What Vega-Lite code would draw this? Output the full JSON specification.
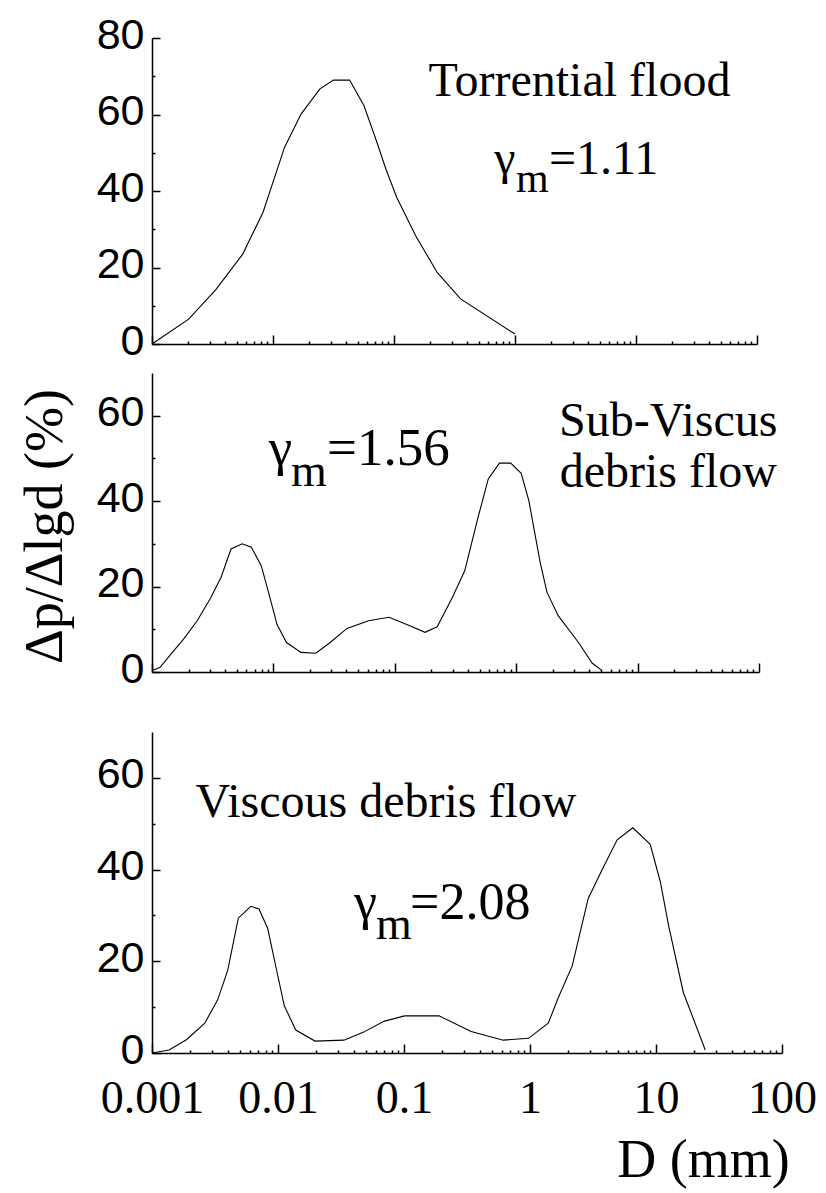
{
  "$schema": "https://vega.github.io/schema/vega-lite/v6.json",
  "padding": {"left": 18, "top": 14, "right": 5, "bottom": 5},
  "background": "white",
  "config": {
    "view": {"stroke": null},
    "axis": {"grid": false, "labelColor": "black", "titleColor": "black", "titleFontWeight": "normal", "labelFontWeight": "normal"}
  },
  "datasets": {
    "curves": [
      {"panel": "top", "D": 0.001, "value": 0},
      {"panel": "top", "D": 0.00201, "value": 6.5},
      {"panel": "top", "D": 0.00337, "value": 14.2},
      {"panel": "top", "D": 0.00562, "value": 23.5},
      {"panel": "top", "D": 0.00826, "value": 34.4},
      {"panel": "top", "D": 0.01245, "value": 51.4},
      {"panel": "top", "D": 0.01706, "value": 60.1},
      {"panel": "top", "D": 0.02443, "value": 66.7},
      {"panel": "top", "D": 0.03162, "value": 69.0},
      {"panel": "top", "D": 0.04295, "value": 69.0},
      {"panel": "top", "D": 0.05649, "value": 62.3},
      {"panel": "top", "D": 0.0700, "value": 54.0},
      {"panel": "top", "D": 0.0867, "value": 45.3},
      {"panel": "top", "D": 0.1054, "value": 38.3},
      {"panel": "top", "D": 0.151, "value": 28.3},
      {"panel": "top", "D": 0.2275, "value": 18.7},
      {"panel": "top", "D": 0.3548, "value": 11.8},
      {"panel": "top", "D": 1.0, "value": 2.6},
      {"panel": "mid", "D": 0.001, "value": 0.3},
      {"panel": "mid", "D": 0.001167, "value": 1.1},
      {"panel": "mid", "D": 0.001432, "value": 4.2},
      {"panel": "mid", "D": 0.00182, "value": 7.7},
      {"panel": "mid", "D": 0.002355, "value": 12.0},
      {"panel": "mid", "D": 0.003041, "value": 17.3},
      {"panel": "mid", "D": 0.003707, "value": 22.2},
      {"panel": "mid", "D": 0.004477, "value": 28.8},
      {"panel": "mid", "D": 0.005534, "value": 30.0},
      {"panel": "mid", "D": 0.006577, "value": 29.2},
      {"panel": "mid", "D": 0.007943, "value": 24.9},
      {"panel": "mid", "D": 0.009268, "value": 17.9},
      {"panel": "mid", "D": 0.01072, "value": 11.1},
      {"panel": "mid", "D": 0.01282, "value": 6.9},
      {"panel": "mid", "D": 0.01687, "value": 4.6},
      {"panel": "mid", "D": 0.02234, "value": 4.4},
      {"panel": "mid", "D": 0.02938, "value": 6.9},
      {"panel": "mid", "D": 0.04036, "value": 10.2},
      {"panel": "mid", "D": 0.06081, "value": 12.0},
      {"panel": "mid", "D": 0.08954, "value": 12.8},
      {"panel": "mid", "D": 0.1315, "value": 10.9},
      {"panel": "mid", "D": 0.1774, "value": 9.3},
      {"panel": "mid", "D": 0.2234, "value": 10.6},
      {"panel": "mid", "D": 0.2965, "value": 17.3},
      {"panel": "mid", "D": 0.3767, "value": 23.7},
      {"panel": "mid", "D": 0.4831, "value": 36.0},
      {"panel": "mid", "D": 0.5888, "value": 45.2},
      {"panel": "mid", "D": 0.7278, "value": 48.9},
      {"panel": "mid", "D": 0.9016, "value": 48.9},
      {"panel": "mid", "D": 1.099, "value": 46.5},
      {"panel": "mid", "D": 1.271, "value": 40.1},
      {"panel": "mid", "D": 1.574, "value": 25.7},
      {"panel": "mid", "D": 1.791, "value": 18.7},
      {"panel": "mid", "D": 2.218, "value": 13.2},
      {"panel": "mid", "D": 3.258, "value": 6.9},
      {"panel": "mid", "D": 4.217, "value": 2.1},
      {"panel": "mid", "D": 5.0, "value": 0.5},
      {"panel": "bot", "D": 0.001, "value": 0},
      {"panel": "bot", "D": 0.001365, "value": 0.65},
      {"panel": "bot", "D": 0.001875, "value": 2.9},
      {"panel": "bot", "D": 0.002624, "value": 6.5},
      {"panel": "bot", "D": 0.003319, "value": 11.6},
      {"panel": "bot", "D": 0.00399, "value": 18.0},
      {"panel": "bot", "D": 0.004842, "value": 29.4},
      {"panel": "bot", "D": 0.006081, "value": 32.0},
      {"panel": "bot", "D": 0.007063, "value": 31.4},
      {"panel": "bot", "D": 0.008279, "value": 27.2},
      {"panel": "bot", "D": 0.009638, "value": 18.7},
      {"panel": "bot", "D": 0.01122, "value": 10.3},
      {"panel": "bot", "D": 0.01384, "value": 5.0},
      {"panel": "bot", "D": 0.01968, "value": 2.6},
      {"panel": "bot", "D": 0.03334, "value": 2.8},
      {"panel": "bot", "D": 0.04742, "value": 4.5},
      {"panel": "bot", "D": 0.06918, "value": 6.9},
      {"panel": "bot", "D": 0.1009, "value": 8.1},
      {"panel": "bot", "D": 0.1897, "value": 8.1},
      {"panel": "bot", "D": 0.3412, "value": 4.7},
      {"panel": "bot", "D": 0.6138, "value": 2.8},
      {"panel": "bot", "D": 0.9727, "value": 3.2},
      {"panel": "bot", "D": 1.396, "value": 6.5},
      {"panel": "bot", "D": 1.679, "value": 12.1},
      {"panel": "bot", "D": 2.163, "value": 19.0},
      {"panel": "bot", "D": 2.897, "value": 33.7},
      {"panel": "bot", "D": 3.819, "value": 40.5},
      {"panel": "bot", "D": 4.920, "value": 46.5},
      {"panel": "bot", "D": 6.546, "value": 49.1},
      {"panel": "bot", "D": 8.995, "value": 45.5},
      {"panel": "bot", "D": 10.81, "value": 37.4},
      {"panel": "bot", "D": 12.59, "value": 27.8},
      {"panel": "bot", "D": 16.48, "value": 13.2},
      {"panel": "bot", "D": 24.60, "value": 0.65}
    ],
    "labels": [
      {"panel": "top", "kind": "name", "D": 3.41, "value": 64.8, "text": "Torrential flood"},
      {"panel": "top", "kind": "gamma", "D": 0.673, "value": 44.4, "text": "γ"},
      {"panel": "top", "kind": "sub", "D": 1.018, "value": 39.7, "text": "m"},
      {"panel": "top", "kind": "gamma", "D": 1.91, "value": 44.4, "text": "=1.11"},
      {"panel": "mid", "kind": "name", "D": 17.9, "value": 55.3, "text": "Sub-Viscus"},
      {"panel": "mid", "kind": "name", "D": 17.9, "value": 43.3, "text": "debris flow"},
      {"panel": "mid", "kind": "gamma", "D": 0.00916, "value": 48.5, "text": "γ"},
      {"panel": "mid", "kind": "sub", "D": 0.01396, "value": 43.5, "text": "m"},
      {"panel": "mid", "kind": "gamma", "D": 0.02767, "value": 48.5, "text": "=1.56"},
      {"panel": "bot", "kind": "name", "D": 0.0719, "value": 51.5, "text": "Viscous debris flow"},
      {"panel": "bot", "kind": "gamma", "D": 0.0401, "value": 29.2, "text": "γ"},
      {"panel": "bot", "kind": "sub", "D": 0.05998, "value": 24.9, "text": "m"},
      {"panel": "bot", "kind": "gamma", "D": 0.1117, "value": 29.2, "text": "=2.08"}
    ]
  },
  "bounds": "flush",
  "spacing": 29,
  "vconcat": [
    {
      "width": 605,
      "height": 306,
      "resolve": {"axis": {"x": "independent", "y": "independent"}},
      "layer": [
        {
          "data": {"name": "curves"},
          "transform": [{"filter": "datum.panel === 'top'"}],
          "mark": {"type": "line", "color": "black", "strokeWidth": 1.1},
          "encoding": {
            "x": {"field": "D", "type": "quantitative", "scale": {"type": "log", "domain": [0.001, 100], "nice": false},
                  "axis": {"orient": "bottom", "title": null, "values": [0.001, 0.01, 0.1, 1, 10, 100], "labels": false, "tickSize": -9, "tickColor": "black", "tickWidth": 1.5, "domainColor": "black", "domainWidth": 1.5}},
            "y": {"field": "value", "type": "quantitative", "scale": {"domain": [0, 80], "nice": false},
                  "axis": {"orient": "left", "title": null, "values": [0, 20, 40, 60, 80], "tickSize": -8, "tickColor": "black", "tickWidth": 1.5, "domainColor": "black", "domainWidth": 1.5, "labelFont": "Liberation Sans", "labelFontSize": 43, "labelPadding": 16, "labelOffset": -3}}
          }
        },
        {
          "data": {"name": "labels"},
          "transform": [{"filter": "datum.panel === 'top' && datum.kind === 'name'"}],
          "mark": {"type": "text", "font": "Liberation Serif", "fontSize": 48, "align": "center", "baseline": "alphabetic", "color": "black"},
          "encoding": {
            "x": {"field": "D", "type": "quantitative", "scale": {"type": "log", "domain": [0.001, 100], "nice": false},
                  "axis": {"orient": "bottom", "title": null, "values": [0.002, 0.003, 0.004, 0.005, 0.006, 0.007, 0.008, 0.009, 0.02, 0.03, 0.04, 0.05, 0.06, 0.07, 0.08, 0.09, 0.2, 0.3, 0.4, 0.5, 0.6, 0.7, 0.8, 0.9, 2, 3, 4, 5, 6, 7, 8, 9, 20, 30, 40, 50, 60, 70, 80, 90], "labels": false, "domain": false, "tickSize": -3, "tickColor": "black", "tickWidth": 1.5}},
            "y": {"field": "value", "type": "quantitative", "scale": {"domain": [0, 80], "nice": false},
                  "axis": {"orient": "left", "title": null, "values": [10, 30, 50, 70], "labels": false, "domain": false, "tickSize": -3, "tickColor": "black", "tickWidth": 1.5}},
            "text": {"field": "text"}
          }
        },
        {
          "data": {"name": "labels"},
          "transform": [{"filter": "datum.panel === 'top' && datum.kind === 'gamma'"}],
          "mark": {"type": "text", "font": "Liberation Serif", "fontSize": 48, "align": "left", "baseline": "alphabetic", "color": "black"},
          "encoding": {
            "x": {"field": "D", "type": "quantitative", "scale": {"type": "log", "domain": [0.001, 100], "nice": false}, "axis": null},
            "y": {"field": "value", "type": "quantitative", "scale": {"domain": [0, 80], "nice": false}, "axis": null},
            "text": {"field": "text"}
          }
        },
        {
          "data": {"name": "labels"},
          "transform": [{"filter": "datum.panel === 'top' && datum.kind === 'sub'"}],
          "mark": {"type": "text", "font": "Liberation Serif", "fontSize": 42, "align": "left", "baseline": "alphabetic", "color": "black"},
          "encoding": {
            "x": {"field": "D", "type": "quantitative", "scale": {"type": "log", "domain": [0.001, 100], "nice": false}, "axis": null},
            "y": {"field": "value", "type": "quantitative", "scale": {"domain": [0, 80], "nice": false}, "axis": null},
            "text": {"field": "text"}
          }
        }
      ]
    },
    {
      "width": 607,
      "height": 299,
      "resolve": {"axis": {"x": "independent", "y": "independent"}},
      "layer": [
        {
          "data": {"name": "curves"},
          "transform": [{"filter": "datum.panel === 'mid'"}],
          "mark": {"type": "line", "color": "black", "strokeWidth": 1.1},
          "encoding": {
            "x": {"field": "D", "type": "quantitative", "scale": {"type": "log", "domain": [0.001, 100], "nice": false},
                  "axis": {"orient": "bottom", "title": null, "values": [0.001, 0.01, 0.1, 1, 10, 100], "labels": false, "tickSize": -9, "tickColor": "black", "tickWidth": 1.5, "domainColor": "black", "domainWidth": 1.5}},
            "y": {"field": "value", "type": "quantitative", "scale": {"domain": [0, 70], "nice": false},
                  "axis": {"orient": "left", "title": "Δp/Δlgd (%)", "titleFont": "Liberation Serif", "titleFontSize": 54, "titleX": -107, "titleY": 153, "titleAngle": -90, "titleAlign": "center", "titleBaseline": "middle", "values": [0, 20, 40, 60], "tickSize": -8, "tickColor": "black", "tickWidth": 1.5, "domainColor": "black", "domainWidth": 1.5, "labelFont": "Liberation Sans", "labelFontSize": 43, "labelPadding": 16, "labelOffset": -3}}
          }
        },
        {
          "data": {"name": "labels"},
          "transform": [{"filter": "datum.panel === 'mid' && datum.kind === 'name'"}],
          "mark": {"type": "text", "font": "Liberation Serif", "fontSize": 48, "align": "center", "baseline": "alphabetic", "color": "black"},
          "encoding": {
            "x": {"field": "D", "type": "quantitative", "scale": {"type": "log", "domain": [0.001, 100], "nice": false},
                  "axis": {"orient": "bottom", "title": null, "values": [0.002, 0.003, 0.004, 0.005, 0.006, 0.007, 0.008, 0.009, 0.02, 0.03, 0.04, 0.05, 0.06, 0.07, 0.08, 0.09, 0.2, 0.3, 0.4, 0.5, 0.6, 0.7, 0.8, 0.9, 2, 3, 4, 5, 6, 7, 8, 9, 20, 30, 40, 50, 60, 70, 80, 90], "labels": false, "domain": false, "tickSize": -3, "tickColor": "black", "tickWidth": 1.5}},
            "y": {"field": "value", "type": "quantitative", "scale": {"domain": [0, 70], "nice": false},
                  "axis": {"orient": "left", "title": null, "values": [10, 30, 50], "labels": false, "domain": false, "tickSize": -3, "tickColor": "black", "tickWidth": 1.5}},
            "text": {"field": "text"}
          }
        },
        {
          "data": {"name": "labels"},
          "transform": [{"filter": "datum.panel === 'mid' && datum.kind === 'gamma'"}],
          "mark": {"type": "text", "font": "Liberation Serif", "fontSize": 53, "align": "left", "baseline": "alphabetic", "color": "black"},
          "encoding": {
            "x": {"field": "D", "type": "quantitative", "scale": {"type": "log", "domain": [0.001, 100], "nice": false}, "axis": null},
            "y": {"field": "value", "type": "quantitative", "scale": {"domain": [0, 70], "nice": false}, "axis": null},
            "text": {"field": "text"}
          }
        },
        {
          "data": {"name": "labels"},
          "transform": [{"filter": "datum.panel === 'mid' && datum.kind === 'sub'"}],
          "mark": {"type": "text", "font": "Liberation Serif", "fontSize": 46, "align": "left", "baseline": "alphabetic", "color": "black"},
          "encoding": {
            "x": {"field": "D", "type": "quantitative", "scale": {"type": "log", "domain": [0.001, 100], "nice": false}, "axis": null},
            "y": {"field": "value", "type": "quantitative", "scale": {"domain": [0, 70], "nice": false}, "axis": null},
            "text": {"field": "text"}
          }
        }
      ]
    },
    {
      "width": 1,
      "height": 2,
      "data": {"values": []},
      "mark": "rule",
      "encoding": {}
    },
    {
      "width": 630,
      "height": 321,
      "resolve": {"axis": {"x": "independent", "y": "independent"}},
      "layer": [
        {
          "data": {"name": "curves"},
          "transform": [{"filter": "datum.panel === 'bot'"}],
          "mark": {"type": "line", "color": "black", "strokeWidth": 1.1},
          "encoding": {
            "x": {"field": "D", "type": "quantitative", "scale": {"type": "log", "domain": [0.001, 100], "nice": false},
                  "axis": {"orient": "bottom", "title": "D (mm)", "titleFont": "Liberation Serif", "titleFontSize": 54, "titleX": 551, "titleY": 123, "titleAlign": "center", "titleBaseline": "alphabetic", "values": [0.001, 0.01, 0.1, 1, 10, 100], "format": "~g", "labelFont": "Liberation Serif", "labelFontSize": 46, "labelPadding": 32, "labelFlush": false, "labelOverlap": false, "tickSize": -9, "tickColor": "black", "tickWidth": 1.5, "domainColor": "black", "domainWidth": 1.5}},
            "y": {"field": "value", "type": "quantitative", "scale": {"domain": [0, 70], "nice": false},
                  "axis": {"orient": "left", "title": null, "values": [0, 20, 40, 60], "tickSize": -8, "tickColor": "black", "tickWidth": 1.5, "domainColor": "black", "domainWidth": 1.5, "labelFont": "Liberation Sans", "labelFontSize": 43, "labelPadding": 16, "labelOffset": -3}}
          }
        },
        {
          "data": {"name": "labels"},
          "transform": [{"filter": "datum.panel === 'bot' && datum.kind === 'name'"}],
          "mark": {"type": "text", "font": "Liberation Serif", "fontSize": 48, "align": "center", "baseline": "alphabetic", "color": "black"},
          "encoding": {
            "x": {"field": "D", "type": "quantitative", "scale": {"type": "log", "domain": [0.001, 100], "nice": false},
                  "axis": {"orient": "bottom", "title": null, "values": [0.002, 0.003, 0.004, 0.005, 0.006, 0.007, 0.008, 0.009, 0.02, 0.03, 0.04, 0.05, 0.06, 0.07, 0.08, 0.09, 0.2, 0.3, 0.4, 0.5, 0.6, 0.7, 0.8, 0.9, 2, 3, 4, 5, 6, 7, 8, 9, 20, 30, 40, 50, 60, 70, 80, 90], "labels": false, "domain": false, "tickSize": -3, "tickColor": "black", "tickWidth": 1.5}},
            "y": {"field": "value", "type": "quantitative", "scale": {"domain": [0, 70], "nice": false},
                  "axis": {"orient": "left", "title": null, "values": [10, 30, 50], "labels": false, "domain": false, "tickSize": -3, "tickColor": "black", "tickWidth": 1.5}},
            "text": {"field": "text"}
          }
        },
        {
          "data": {"name": "labels"},
          "transform": [{"filter": "datum.panel === 'bot' && datum.kind === 'gamma'"}],
          "mark": {"type": "text", "font": "Liberation Serif", "fontSize": 52, "align": "left", "baseline": "alphabetic", "color": "black"},
          "encoding": {
            "x": {"field": "D", "type": "quantitative", "scale": {"type": "log", "domain": [0.001, 100], "nice": false}, "axis": null},
            "y": {"field": "value", "type": "quantitative", "scale": {"domain": [0, 70], "nice": false}, "axis": null},
            "text": {"field": "text"}
          }
        },
        {
          "data": {"name": "labels"},
          "transform": [{"filter": "datum.panel === 'bot' && datum.kind === 'sub'"}],
          "mark": {"type": "text", "font": "Liberation Serif", "fontSize": 46, "align": "left", "baseline": "alphabetic", "color": "black"},
          "encoding": {
            "x": {"field": "D", "type": "quantitative", "scale": {"type": "log", "domain": [0.001, 100], "nice": false}, "axis": null},
            "y": {"field": "value", "type": "quantitative", "scale": {"domain": [0, 70], "nice": false}, "axis": null},
            "text": {"field": "text"}
          }
        }
      ]
    }
  ]
}
